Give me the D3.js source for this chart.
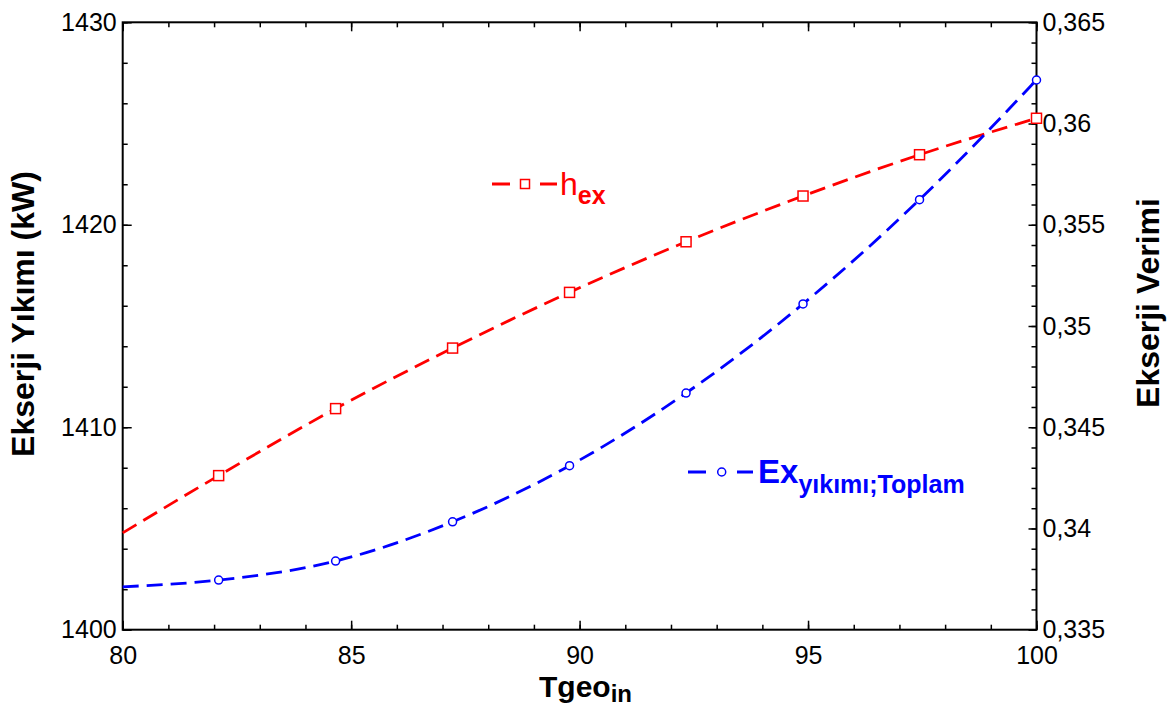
<!DOCTYPE html>
<html>
<head>
<meta charset="utf-8">
<script src="https://cdn.jsdelivr.net/npm/d3@7"></script>
<style>
  html, body { margin: 0; padding: 0; background: #fff; }
  svg { display: block; font-family: "Liberation Sans", Arial, sans-serif; }
</style>
</head>
<body>
<svg id="chart" width="1168" height="706"></svg>
<script>
// ---- data ----
const tgeo = [80, 82.1, 84.66, 87.22, 89.78, 92.33, 94.89, 97.44, 100];
const exergyDestruction = [1402.12, 1402.45, 1403.39, 1405.33, 1408.10, 1411.69, 1416.09, 1421.24, 1427.15];
const exergyEfficiency = [0.33978, 0.34261, 0.34592, 0.34891, 0.35166, 0.35416, 0.35642, 0.35846, 0.36026];
const markerFrom = 1; // first point is drawn without a marker

const xMajorTicks = [80, 85, 90, 95, 100];
const xTickLabels = ["80", "85", "90", "95", "100"];
const yLeftMajorTicks = [1400, 1410, 1420, 1430];
const yLeftTickLabels = ["1400", "1410", "1420", "1430"];
const yRightMajorTicks = [0.335, 0.34, 0.345, 0.35, 0.355, 0.36, 0.365];
const yRightTickLabels = ["0,335", "0,34", "0,345", "0,35", "0,355", "0,36", "0,365"];

const xTitle = "Tgeo", xTitleSub = "in";
const yLeftTitle = "Ekserji Yıkımı (kW)";
const yRightTitle = "Ekserji Verimi";
const legendEff = { main: "h", sub: "ex" };
const legendDes = { main: "Ex", sub: "yıkımı;Toplam" };

// ---- layout ----
const L = 122.7, R = 1036.5, T = 22.3, B = 629.7;
const RED = "#ff0000", BLUE = "#0000ff";

const svg = d3.select("#chart");
const x = d3.scaleLinear().domain([80, 100]).range([L, R]);
const yL = d3.scaleLinear().domain([1400, 1430]).range([B, T]);
const yR = d3.scaleLinear().domain([0.335, 0.365]).range([B, T]);

const minorX = d3.range(80, 100.001, 1);
const minorYL = d3.range(1400, 1430.001, 2);
const minorYR = d3.range(0, 31).map(i => 0.335 + i * 0.001);

function styleAxis(g) {
  g.select(".domain").remove();
  g.selectAll(".tick line").attr("stroke", "#000").attr("stroke-width", 1.5);
  g.selectAll("text").attr("fill", "#000").attr("font-size", 25);
}

// bottom axis
svg.append("g").attr("transform", `translate(0,${B})`)
  .call(d3.axisBottom(x).tickValues(minorX).tickSize(-5).tickFormat(""))
  .call(styleAxis);
svg.append("g").attr("transform", `translate(0,${B})`)
  .call(d3.axisBottom(x).tickValues(xMajorTicks).tickSize(-9).tickPadding(17)
        .tickFormat((d, i) => xTickLabels[i]))
  .call(styleAxis);
// top axis (ticks only)
svg.append("g").attr("transform", `translate(0,${T})`)
  .call(d3.axisTop(x).tickValues(minorX).tickSize(-5).tickFormat(""))
  .call(styleAxis);
svg.append("g").attr("transform", `translate(0,${T})`)
  .call(d3.axisTop(x).tickValues(xMajorTicks).tickSize(-9).tickFormat(""))
  .call(styleAxis);
// left axis
svg.append("g").attr("transform", `translate(${L},0)`)
  .call(d3.axisLeft(yL).tickValues(minorYL).tickSize(-5).tickFormat(""))
  .call(styleAxis);
svg.append("g").attr("transform", `translate(${L},0)`)
  .call(d3.axisLeft(yL).tickValues(yLeftMajorTicks).tickSize(-9).tickPadding(6)
        .tickFormat((d, i) => yLeftTickLabels[i]))
  .call(styleAxis);
// right axis
svg.append("g").attr("transform", `translate(${R},0)`)
  .call(d3.axisRight(yR).tickValues(minorYR).tickSize(-5).tickFormat(""))
  .call(styleAxis);
svg.append("g").attr("transform", `translate(${R},0)`)
  .call(d3.axisRight(yR).tickValues(yRightMajorTicks).tickSize(-8).tickPadding(6)
        .tickFormat((d, i) => yRightTickLabels[i]))
  .call(styleAxis);

// frame
svg.append("rect").attr("x", L).attr("y", T).attr("width", R - L).attr("height", B - T)
  .attr("fill", "none").attr("stroke", "#000").attr("stroke-width", 2);

// ---- series ----
const effPts = tgeo.map((t, i) => [t, exergyEfficiency[i]]);
const desPts = tgeo.map((t, i) => [t, exergyDestruction[i]]);

const lineEff = d3.line().x(d => x(d[0])).y(d => yR(d[1])).curve(d3.curveMonotoneX);
const lineDes = d3.line().x(d => x(d[0])).y(d => yL(d[1])).curve(d3.curveMonotoneX);

svg.append("path").attr("d", lineEff(effPts)).attr("fill", "none")
  .attr("stroke", RED).attr("stroke-width", 2.8).attr("stroke-dasharray", "16,8");
svg.append("path").attr("d", lineDes(desPts)).attr("fill", "none")
  .attr("stroke", BLUE).attr("stroke-width", 2.8).attr("stroke-dasharray", "16,8");

svg.append("g").selectAll("rect").data(effPts.slice(markerFrom)).join("rect")
  .attr("x", d => x(d[0]) - 5).attr("y", d => yR(d[1]) - 5)
  .attr("width", 10).attr("height", 10)
  .attr("fill", "#fff").attr("stroke", RED).attr("stroke-width", 1.5);
svg.append("g").selectAll("circle").data(desPts.slice(markerFrom)).join("circle")
  .attr("cx", d => x(d[0])).attr("cy", d => yL(d[1])).attr("r", 4)
  .attr("fill", "#fff").attr("stroke", BLUE).attr("stroke-width", 1.5);

// ---- legends ----
const lg1 = svg.append("g");
lg1.append("line").attr("x1", 492).attr("x2", 557).attr("y1", 184).attr("y2", 184)
  .attr("stroke", RED).attr("stroke-width", 2.8).attr("stroke-dasharray", "18,30");
lg1.append("rect").attr("x", 520.5).attr("y", 179.5).attr("width", 9).attr("height", 9)
  .attr("fill", "#fff").attr("stroke", RED).attr("stroke-width", 1.5);
const t1 = lg1.append("text").attr("x", 560).attr("y", 195).attr("fill", RED);
t1.append("tspan").attr("font-size", 32).text(legendEff.main);
t1.append("tspan").attr("font-size", 25).attr("font-weight", "bold").attr("dy", 9).text(legendEff.sub);

const lg2 = svg.append("g");
lg2.append("line").attr("x1", 688).attr("x2", 753).attr("y1", 472).attr("y2", 472)
  .attr("stroke", BLUE).attr("stroke-width", 2.8).attr("stroke-dasharray", "18,31");
lg2.append("circle").attr("cx", 721.7).attr("cy", 472).attr("r", 4)
  .attr("fill", "#fff").attr("stroke", BLUE).attr("stroke-width", 1.5);
const t2 = lg2.append("text").attr("x", 758).attr("y", 483).attr("fill", BLUE).attr("font-weight", "bold");
t2.append("tspan").attr("font-size", 33).text(legendDes.main);
t2.append("tspan").attr("font-size", 25).attr("dy", 10).text(legendDes.sub);

// ---- axis titles ----
const xt = svg.append("text").attr("x", 539).attr("y", 697).attr("font-weight", "bold").attr("fill", "#000");
xt.append("tspan").attr("font-size", 30).text(xTitle);
xt.append("tspan").attr("font-size", 24).attr("dy", 5).text(xTitleSub);

svg.append("text").attr("transform", `translate(34,314) rotate(-90)`)
  .attr("text-anchor", "middle").attr("font-size", 32).attr("font-weight", "bold")
  .attr("fill", "#000").text(yLeftTitle);
svg.append("text").attr("transform", `translate(1159,303) rotate(-90)`)
  .attr("text-anchor", "middle").attr("font-size", 32).attr("font-weight", "bold")
  .attr("fill", "#000").text(yRightTitle);
</script>
</body>
</html>
